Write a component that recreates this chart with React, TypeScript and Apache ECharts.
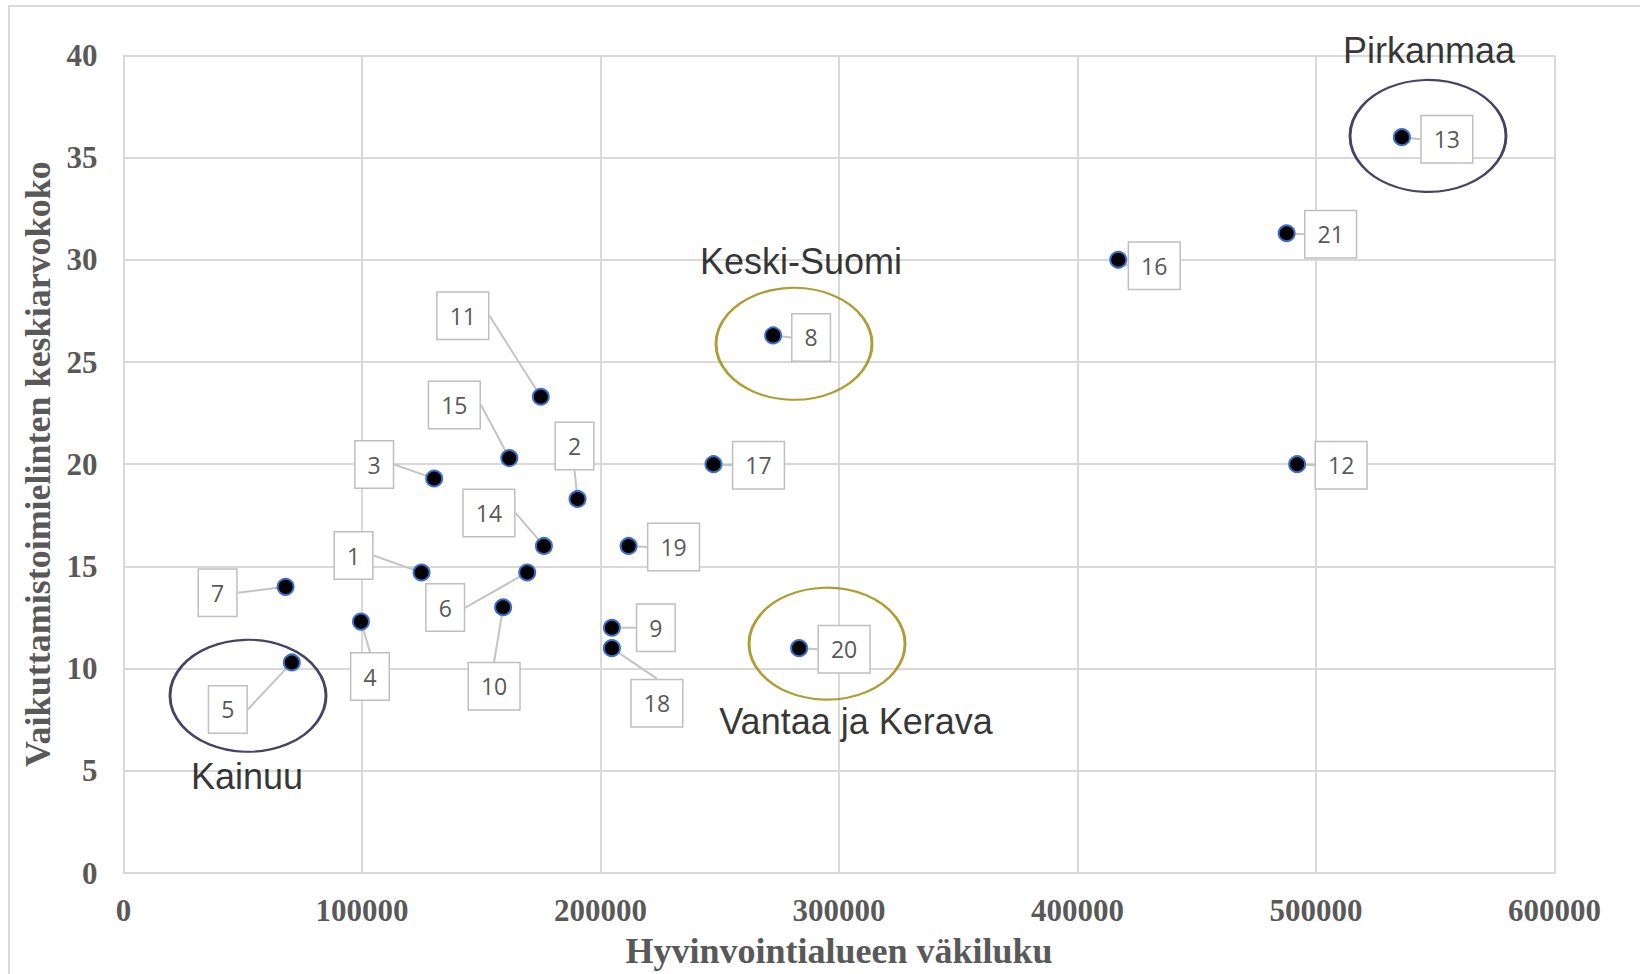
import React, { useEffect, useRef } from "react";
import * as echarts from "echarts";

// Region numbers shown in the callouts
const regionIds = [
  "1", "2", "3", "4", "5", "6", "7", "8", "9", "10", "11",
  "12", "13", "14", "15", "16", "17", "18", "19", "20", "21",
];
// Hyvinvointialueen väkiluku (x)
const populations = [
  125000, 190400, 130300, 99600, 70600, 169300, 68000, 272400, 204800, 159200, 175000,
  492100, 536000, 176300, 161800, 417100, 247400, 204800, 211800, 283300, 487700,
];
// Vaikuttamistoimielinten keskiarvokoko (y)
const avgSizes = [
  14.7, 18.3, 19.3, 12.3, 10.3, 14.7, 14.0, 26.3, 12.0, 13.0, 23.3,
  20.0, 36.0, 16.0, 20.3, 30.0, 20.0, 11.0, 16.0, 11.0, 31.3,
];
// Callout displacement (px) from each point
const calloutOffsets: [number, number][] = [
  [-68, -17], [-3, -53], [-60, -14], [9, 55], [-64, 47], [-82, 35], [-68, 6],
  [38, 2], [44, 0], [-9, 79], [-78, -81], [44, 1], [45, 2], [-55, -33],
  [-55, -53], [36, 6], [45, 1], [45, 55], [45, 1], [45, 1], [44, 1],
];

// Highlighted regions (ellipse annotations)
const highlightNames = ["Kainuu", "Keski-Suomi", "Vantaa ja Kerava", "Pirkanmaa"];
const highlightX = [52240, 281150, 295000, 546960];
const highlightY = [8.67, 25.89, 11.22, 36.06];
const highlightTextOffsets: [number, number][] = [[-1, 81], [7, -82], [29, 78], [1, -85]];
const highlightColors = ["#1c1240", "#9c8500", "#9c8500", "#1c1240"];

const xTicks = { min: 0, max: 600000, interval: 100000 };
const yTicks = { min: 0, max: 40, interval: 5 };

const GRID = "#d9d9d9";
const AXIS_TEXT = "#595959";
const SERIF = "'Liberation Serif', 'Times New Roman', serif";

export default function App() {
  const ref = useRef<HTMLDivElement>(null);
  useEffect(() => {
    if (!ref.current) return;
    const chart = echarts.init(ref.current, null, { renderer: "svg" });
    const points = populations.map((x, i) => [x, avgSizes[i]]);
    const ellipses = highlightNames.map((name, i) => ({
      name,
      value: [highlightX[i], highlightY[i]],
      itemStyle: { color: "rgba(0,0,0,0)", borderColor: highlightColors[i], borderWidth: 2.5 },
      label: { offset: highlightTextOffsets[i] },
    }));
    chart.setOption({
      animation: false,
      backgroundColor: "#ffffff",
      graphic: [
        {
          type: "rect",
          z: -10,
          silent: true,
          shape: { x: 9, y: 6, width: 1700, height: 1000 },
          style: { fill: "none", stroke: GRID, lineWidth: 2 },
        },
      ],
      grid: { left: 123.4, right: 85.5, top: 55.4, bottom: 100.6, containLabel: false },
      xAxis: {
        type: "value",
        ...xTicks,
        name: "Hyvinvointialueen väkiluku",
        nameLocation: "middle",
        nameGap: 60,
        nameTextStyle: { fontFamily: SERIF, fontWeight: "bold", fontSize: 36, color: AXIS_TEXT },
        axisLine: { show: true, lineStyle: { color: GRID, width: 2 } },
        axisTick: { show: false },
        axisLabel: {
          margin: 22,
          fontFamily: SERIF,
          fontWeight: "bold",
          fontSize: 31,
          color: AXIS_TEXT,
          formatter: (v: number) => String(v),
        },
        splitLine: { show: true, lineStyle: { color: GRID, width: 2 } },
      },
      yAxis: {
        type: "value",
        ...yTicks,
        name: "Vaikuttamistoimielinten keskiarvokoko",
        nameLocation: "middle",
        nameGap: 66,
        nameTextStyle: { fontFamily: SERIF, fontWeight: "bold", fontSize: 36, color: AXIS_TEXT },
        axisLine: { show: true, lineStyle: { color: GRID, width: 2 } },
        axisTick: { show: false },
        axisLabel: {
          margin: 26,
          fontFamily: SERIF,
          fontWeight: "bold",
          fontSize: 31,
          color: AXIS_TEXT,
          formatter: (v: number) => String(v),
        },
        splitLine: { show: true, lineStyle: { color: GRID, width: 2 } },
      },
      series: [
        {
          type: "scatter",
          silent: true,
          z: 1,
          symbol: "circle",
          symbolSize: [156, 112],
          data: ellipses,
          label: {
            show: true,
            position: "inside",
            formatter: "{b}",
            fontFamily: "'Liberation Sans', Arial, sans-serif",
            fontSize: 36,
            color: "#000000",
          },
        },
        {
          type: "scatter",
          z: 3,
          symbol: "circle",
          symbolSize: 16,
          data: points,
          itemStyle: { color: "#000000", borderColor: "#3b6fd1", borderWidth: 2, opacity: 1 },
          label: {
            show: true,
            position: "inside",
            formatter: (p: any) => regionIds[p.dataIndex],
            backgroundColor: "#ffffff",
            borderColor: "#bfbfbf",
            borderWidth: 1.5,
            padding: [11, 12],
            fontFamily: "'Open Sans', sans-serif",
            fontSize: 23,
            lineHeight: 24,
            color: AXIS_TEXT,
          },
          labelLine: { show: true, lineStyle: { color: "#c4c4c4", width: 2 } },
          labelLayout: (p: any) => ({
            dx: calloutOffsets[p.dataIndex][0],
            dy: calloutOffsets[p.dataIndex][1],
            hideOverlap: false,
          }),
        },
      ],
    });
    return () => chart.dispose();
  }, []);
  return (
    <div
      ref={ref}
      style={{ position: "absolute", left: 0, top: 0, width: 1640, height: 974 }}
    />
  );
}
